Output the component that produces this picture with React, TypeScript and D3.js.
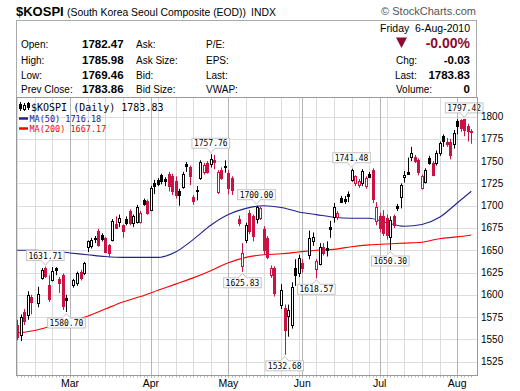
import { curveMonotoneX, line, scaleBand, scaleLinear, timeDay, timeFormat } from 'd3'

// $KOSPI daily candles, Feb 8 – Aug 6 2010 (StockCharts style)

const HOLIDAYS = ['2010-02-15', '2010-03-01', '2010-05-05', '2010-05-21', '2010-06-02']

// trading days only, Feb / Mar / Apr / May / Jun / Jul / Aug
const OPEN = [
  1566, 1555, 1581, 1577, 1598, 1591, 1619, 1630, 1611, 1617, 1630, 1618, 1622, 1596,
  1611, 1613, 1626, 1625, 1653, 1655, 1664, 1672, 1667, 1664, 1656, 1662, 1680, 1682, 1678, 1685, 1694, 1680, 1682, 1682, 1706, 1705,
  1695, 1726, 1729, 1734, 1730, 1736, 1733, 1728, 1717, 1721, 1747, 1743, 1710, 1718, 1731, 1738, 1748, 1746, 1751, 1716, 1740, 1745,
  1737, 1731, 1685, 1632, 1661, 1692, 1688, 1684, 1686, 1674, 1664, 1622, 1630, 1588, 1585, 1576, 1566, 1630, 1624,
  1636, 1645, 1661, 1629, 1635, 1654, 1652, 1676, 1688, 1688, 1709, 1708, 1713, 1729, 1725, 1723, 1725, 1722, 1736, 1740, 1682,
  1688, 1689, 1686, 1665, 1688, 1700, 1709, 1733, 1738, 1755, 1755, 1751, 1720, 1727, 1753, 1748, 1748, 1759, 1778, 1772, 1772, 1770,
  1795, 1796, 1797, 1790, 1782.47,
]
const HIGH = [
  1572, 1578, 1584, 1604, 1600, 1609, 1630, 1631.71, 1622, 1631, 1631, 1620, 1624, 1600,
  1618, 1626, 1628, 1637, 1661, 1664, 1666, 1674, 1669, 1665, 1657, 1685, 1688, 1690, 1679, 1688, 1696, 1690, 1701, 1694, 1708, 1707,
  1722, 1729, 1731, 1736, 1732, 1738, 1736, 1733, 1719, 1738, 1749, 1745, 1712, 1722, 1751, 1748, 1750, 1757.76, 1757, 1740, 1743, 1751,
  1740, 1733, 1689, 1658, 1681, 1695, 1690, 1700.0, 1699, 1677, 1666, 1633, 1632, 1612, 1589, 1589, 1614, 1640, 1645,
  1640, 1672, 1670, 1640, 1658, 1658, 1660, 1683, 1703, 1694, 1711, 1711, 1716, 1741.48, 1734, 1730, 1741, 1733, 1738, 1742, 1704,
  1692, 1695, 1690, 1688, 1690, 1702, 1725, 1739, 1754, 1766, 1757, 1753, 1735, 1742, 1756, 1750, 1762, 1772, 1780, 1776, 1775, 1785,
  1797, 1797, 1797.42, 1792, 1785.98,
]
const LOW = [
  1549, 1548, 1566, 1572, 1578, 1586, 1617, 1619, 1592, 1615, 1622, 1602, 1583, 1580.7,
  1608, 1610, 1616, 1622, 1648, 1652, 1658, 1654, 1660, 1647, 1642, 1660, 1674, 1676, 1664, 1678, 1678, 1676, 1680, 1680, 1700, 1690,
  1694, 1713, 1722, 1724, 1722, 1716, 1712, 1708, 1700, 1719, 1738, 1723, 1701, 1706, 1729, 1735, 1736, 1743, 1741, 1713, 1729, 1737,
  1713, 1712, 1677, 1625.83, 1658, 1668, 1660, 1680, 1684, 1645, 1640, 1619, 1598, 1584, 1532.68, 1553, 1562, 1610, 1620,
  1625, 1640, 1655, 1618.57, 1633, 1644, 1643, 1664, 1681, 1684, 1703, 1702, 1704, 1727, 1722, 1720, 1722, 1719, 1731, 1703, 1678,
  1670, 1666, 1662, 1650.3, 1675, 1694, 1697, 1726, 1735, 1750, 1748, 1734, 1718, 1725, 1746, 1733, 1745, 1756, 1766, 1766, 1752, 1764,
  1780, 1783, 1778, 1772, 1769.46,
]
const CLOSE = [
  1553, 1575, 1571, 1600, 1592, 1601, 1628, 1621, 1595, 1627, 1628, 1613, 1587, 1594,
  1617, 1624, 1619, 1636, 1660, 1662, 1663, 1656, 1662, 1648, 1647, 1683, 1675, 1686, 1671, 1681, 1680, 1688, 1699, 1692, 1701, 1692,
  1720, 1723, 1725, 1727, 1728, 1722, 1716, 1712, 1713, 1736, 1745, 1733, 1705, 1717, 1749, 1746, 1738, 1752, 1749, 1738, 1731, 1744,
  1720, 1718, 1681, 1647, 1678, 1672, 1665, 1698, 1697, 1650, 1643, 1630, 1602, 1605, 1560, 1583, 1609, 1622, 1641,
  1630, 1664, 1665, 1638, 1654, 1647, 1650, 1674, 1699, 1692, 1705, 1706, 1711, 1740, 1733, 1728, 1739, 1731, 1733, 1708, 1698,
  1675, 1670, 1667, 1684, 1678, 1698, 1723, 1735, 1736, 1759, 1750, 1737, 1733, 1740, 1747, 1735, 1759, 1770, 1772, 1770, 1757, 1782,
  1789, 1787, 1785, 1783.86, 1783.83,
]

// moving averages at each Monday (plus the last day)
const MA_DATES = [
  '2010-02-08', '2010-02-15', '2010-02-22', '2010-03-01', '2010-03-08', '2010-03-15', '2010-03-22', '2010-03-29',
  '2010-04-05', '2010-04-12', '2010-04-19', '2010-04-26', '2010-05-03', '2010-05-10', '2010-05-17', '2010-05-24',
  '2010-05-31', '2010-06-07', '2010-06-14', '2010-06-21', '2010-06-28', '2010-07-05', '2010-07-12', '2010-07-19',
  '2010-07-26', '2010-08-02', '2010-08-06',
]
const MA50 = [
  1650, 1650, 1649, 1647, 1645, 1643, 1642, 1642, 1642, 1648, 1662, 1678, 1690, 1697, 1700, 1698,
  1693, 1690, 1687, 1686, 1686, 1681, 1677, 1679, 1687, 1703, 1716.18,
]
const MA200 = [
  1557, 1560, 1565, 1570, 1576, 1584, 1592, 1598, 1605, 1612, 1619, 1627, 1636, 1642, 1645, 1646,
  1648, 1650, 1651, 1654, 1656, 1657, 1658, 1659, 1663, 1665, 1667.17,
]

const Y_TICKS = [1525, 1550, 1575, 1600, 1625, 1650, 1675, 1700, 1725, 1750, 1775, 1800]
const MONTHS = ['Mar', 'Apr', 'May', 'Jun', 'Jul', 'Aug']

// swing-point callouts
const CALLOUT_DATES = [
  '2010-02-18', '2010-02-26', '2010-04-26', '2010-05-07', '2010-05-13',
  '2010-05-25', '2010-06-07', '2010-06-21', '2010-07-06', '2010-08-04',
]
const CALLOUT_SIDES = ['high', 'low', 'high', 'low', 'high', 'low', 'low', 'high', 'low', 'high']

const W = 520
const H = 391
const PLOT = { left: 16, right: 477, top: 97, bottom: 375 }
const SANS = 'Liberation Sans, Arial, sans-serif'
const MONO = 'DejaVu Sans Mono, monospace'
const RED = '#cc1144'
const NAVY = '#22228f'
const fmtKey = timeFormat('%Y-%m-%d')

export default function App() {
  const weekdays = timeDay
    .range(new Date(2010, 1, 8), new Date(2010, 7, 7))
    .filter((d) => d.getDay() > 0 && d.getDay() < 6)
  const keys = weekdays.map(fmtKey)
  const tradeDays = keys.filter((k) => !HOLIDAYS.includes(k))

  const x = scaleBand().domain(keys).range([15.4, 473])
  const bw = x.bandwidth()
  const cx = (k: string) => (x(k) ?? 0) + bw / 2
  const y = scaleLinear().domain([1510, 1822]).range([PLOT.bottom, PLOT.top])

  const maLine = (vals: number[]) =>
    line<number>()
      .x((_, i) => cx(MA_DATES[i]))
      .y((v) => y(v))
      .curve(curveMonotoneX)(vals) ?? ''

  const monthStarts = weekdays.filter((d, i) => i > 0 && d.getMonth() !== weekdays[i - 1].getMonth())
  const mondays = weekdays.filter((d) => d.getDay() === 1)

  const candles = tradeDays.map((k, i) => {
    const o = OPEN[i]
    const c = CLOSE[i]
    const prev = i === 0 ? o : CLOSE[i - 1]
    const color = c >= prev ? '#000' : RED
    const hollow = c > o
    const xc = Math.round(cx(k))
    const top = y(Math.max(o, c))
    const bot = y(Math.min(o, c))
    return (
      <g key={k}>
        <line x1={xc + 0.5} x2={xc + 0.5} y1={y(HIGH[i])} y2={y(LOW[i])} stroke={color} strokeWidth={1} />
        <rect
          x={xc - 0.5}
          y={Math.round(top) + 0.5}
          width={2}
          height={Math.max(1, Math.round(bot - top))}
          fill={hollow ? '#fff' : color}
          stroke={color}
          strokeWidth={1}
        />
      </g>
    )
  })

  const callouts = CALLOUT_DATES.map((k, j) => {
    const i = tradeDays.indexOf(k)
    const isHigh = CALLOUT_SIDES[j] === 'high'
    const v = isHigh ? HIGH[i] : LOW[i]
    const label = v.toFixed(2)
    const xc = cx(k)
    const bwid = label.length * 4.8 + 4
    const yv = y(v)
    const boxY = isHigh ? yv - 16 : yv + 6
    const edge = isHigh ? boxY + 10 : boxY
    const tip = isHigh ? yv - 1.5 : yv + 1.5
    return (
      <g key={k}>
        <rect x={xc - bwid / 2} y={boxY} width={bwid} height={10} fill="#fff" stroke="#c4c4c4" strokeWidth={1} />
        <path d={`M${xc - 4},${edge} L${xc},${tip} L${xc + 4},${edge}`} fill="#fff" stroke="#c4c4c4" strokeWidth={1} />
        <line x1={xc - 3.4} x2={xc + 3.4} y1={edge} y2={edge} stroke="#fff" strokeWidth={1.2} />
        <text x={xc} y={boxY + 8} textAnchor="middle" fontFamily={MONO} fontSize={8} fill="#000">
          {label}
        </text>
      </g>
    )
  })

  return (
    <div style={{ position: 'absolute', left: 0, top: 0 }}>
      <svg width={W} height={H} viewBox={`0 0 ${W} ${H}`} style={{ display: 'block', background: '#fff' }}>
        {/* title row */}
        <text x={16} y={16} fontFamily={SANS} fontSize={13} fontWeight="bold">$KOSPI</text>
        <text x={67} y={16} fontFamily={SANS} fontSize={10.4}>(South Korea Seoul Composite (EOD))</text>
        <text x={251} y={16} fontFamily={SANS} fontSize={10.4}>INDX</text>
        <text x={476} y={15} textAnchor="end" fontFamily={SANS} fontSize={11} fill="#555">© StockCharts.com</text>

        {/* quote box */}
        <rect x={16.5} y={20.5} width={460} height={77} fill="#fff" stroke="#aaa" />
        <g fontFamily={SANS} fontSize={10}>
          {[
            ['Open:', '1782.47', 'Ask:', 'P/E:', 48],
            ['High:', '1785.98', 'Ask Size:', 'EPS:', 64],
            ['Low:', '1769.46', 'Bid:', 'Last:', 78.5],
            ['Prev Close:', '1783.86', 'Bid Size:', 'VWAP:', 93],
          ].map(([a, b, c, d, yy]) => (
            <g key={a as string}>
              <text x={21} y={yy as number}>{a}</text>
              <text x={82} y={yy as number} fontWeight="bold" fontSize={11.5}>{b}</text>
              <text x={136} y={yy as number}>{c}</text>
              <text x={206} y={yy as number}>{d}</text>
            </g>
          ))}
          <text x={470} y={31.5} textAnchor="end" fontSize={10.5}>{'Friday\u00a0\u00a06-Aug-2010'}</text>
          <path d="M396,37.5 L407,37.5 L401.5,48 Z" fill="#8e0b2e" />
          <text x={470} y={48} textAnchor="end" fontWeight="bold" fontSize={14} fill="#8e0b2e">-0.00%</text>
          <text x={396} y={64}>Chg:</text>
          <text x={470} y={64} textAnchor="end" fontWeight="bold" fontSize={11.5}>-0.03</text>
          <text x={395} y={78.5}>Last:</text>
          <text x={470} y={78.5} textAnchor="end" fontWeight="bold" fontSize={11.5}>1783.83</text>
          <text x={396} y={93}>Volume:</text>
          <text x={470} y={93} textAnchor="end" fontWeight="bold" fontSize={11.5}>0</text>
        </g>

        {/* grid */}
        {Y_TICKS.map((t) => (
          <line key={t} x1={PLOT.left} x2={PLOT.right} y1={Math.round(y(t)) + 0.5} y2={Math.round(y(t)) + 0.5} stroke="#dcdcdc" />
        ))}
        {mondays.map((d) => (
          <line key={fmtKey(d)} x1={Math.round(cx(fmtKey(d))) + 0.5} x2={Math.round(cx(fmtKey(d))) + 0.5} y1={PLOT.top} y2={PLOT.bottom} stroke="#dcdcdc" />
        ))}
        {monthStarts.map((d) => (
          <line key={'m' + fmtKey(d)} x1={Math.round(cx(fmtKey(d))) + 0.5} x2={Math.round(cx(fmtKey(d))) + 0.5} y1={PLOT.top} y2={PLOT.bottom + 3} stroke="#b4b4b4" />
        ))}

        {/* moving averages */}
        <path d={maLine(MA200)} fill="none" stroke="#ff0000" strokeWidth={1.1} />
        <path d={maLine(MA50)} fill="none" stroke={NAVY} strokeWidth={1.1} />

        {candles}
        {callouts}

        {/* frame + axes */}
        <rect x={PLOT.left + 0.5} y={PLOT.top + 0.5} width={PLOT.right - PLOT.left} height={PLOT.bottom - PLOT.top} fill="none" stroke="#999" />
        {keys.map((k) => (
          <line key={'t' + k} x1={Math.round(cx(k)) + 0.5} x2={Math.round(cx(k)) + 0.5} y1={PLOT.bottom + 1} y2={PLOT.bottom + 2.5} stroke="#bbb" />
        ))}
        {Y_TICKS.map((t) => (
          <text key={'l' + t} x={481} y={y(t) + 3.5} fontFamily={SANS} fontSize={10}>{t}</text>
        ))}
        {monthStarts.map((d, i) => (
          <text key={'ml' + i} x={cx(fmtKey(d))} y={387} textAnchor="middle" fontFamily={SANS} fontSize={10.5}>
            {MONTHS[i]}
          </text>
        ))}

        {/* legend */}
        <g>
          <line x1={20.5} x2={20.5} y1={102} y2={111} stroke="#000" />
          <rect x={19.5} y={104.5} width={2} height={4} fill="#000" stroke="#000" />
          <line x1={24.5} x2={24.5} y1={103} y2={111} stroke="#000" />
          <rect x={23.5} y={105.5} width={2} height={4} fill="#fff" stroke="#000" />
          <line x1={28.5} x2={28.5} y1={102} y2={110} stroke="#000" />
          <rect x={27.5} y={103.5} width={2} height={4} fill="#000" stroke="#000" />
          <text x={31} y={111} fontFamily={MONO} fontSize={10}>$KOSPI (Daily) 1783.83</text>
          <line x1={19} x2={28} y1={118.5} y2={118.5} stroke={NAVY} strokeWidth={2.5} />
          <text x={29.5} y={121.5} fontFamily={MONO} fontSize={8.5} fill={NAVY}>MA(50) 1716.18</text>
          <line x1={19} x2={28} y1={128.5} y2={128.5} stroke="#ff0000" strokeWidth={2.5} />
          <text x={29.5} y={132} fontFamily={MONO} fontSize={8.5} fill="#ff0000">MA(200) 1667.17</text>
        </g>
      </svg>
    </div>
  )
}
